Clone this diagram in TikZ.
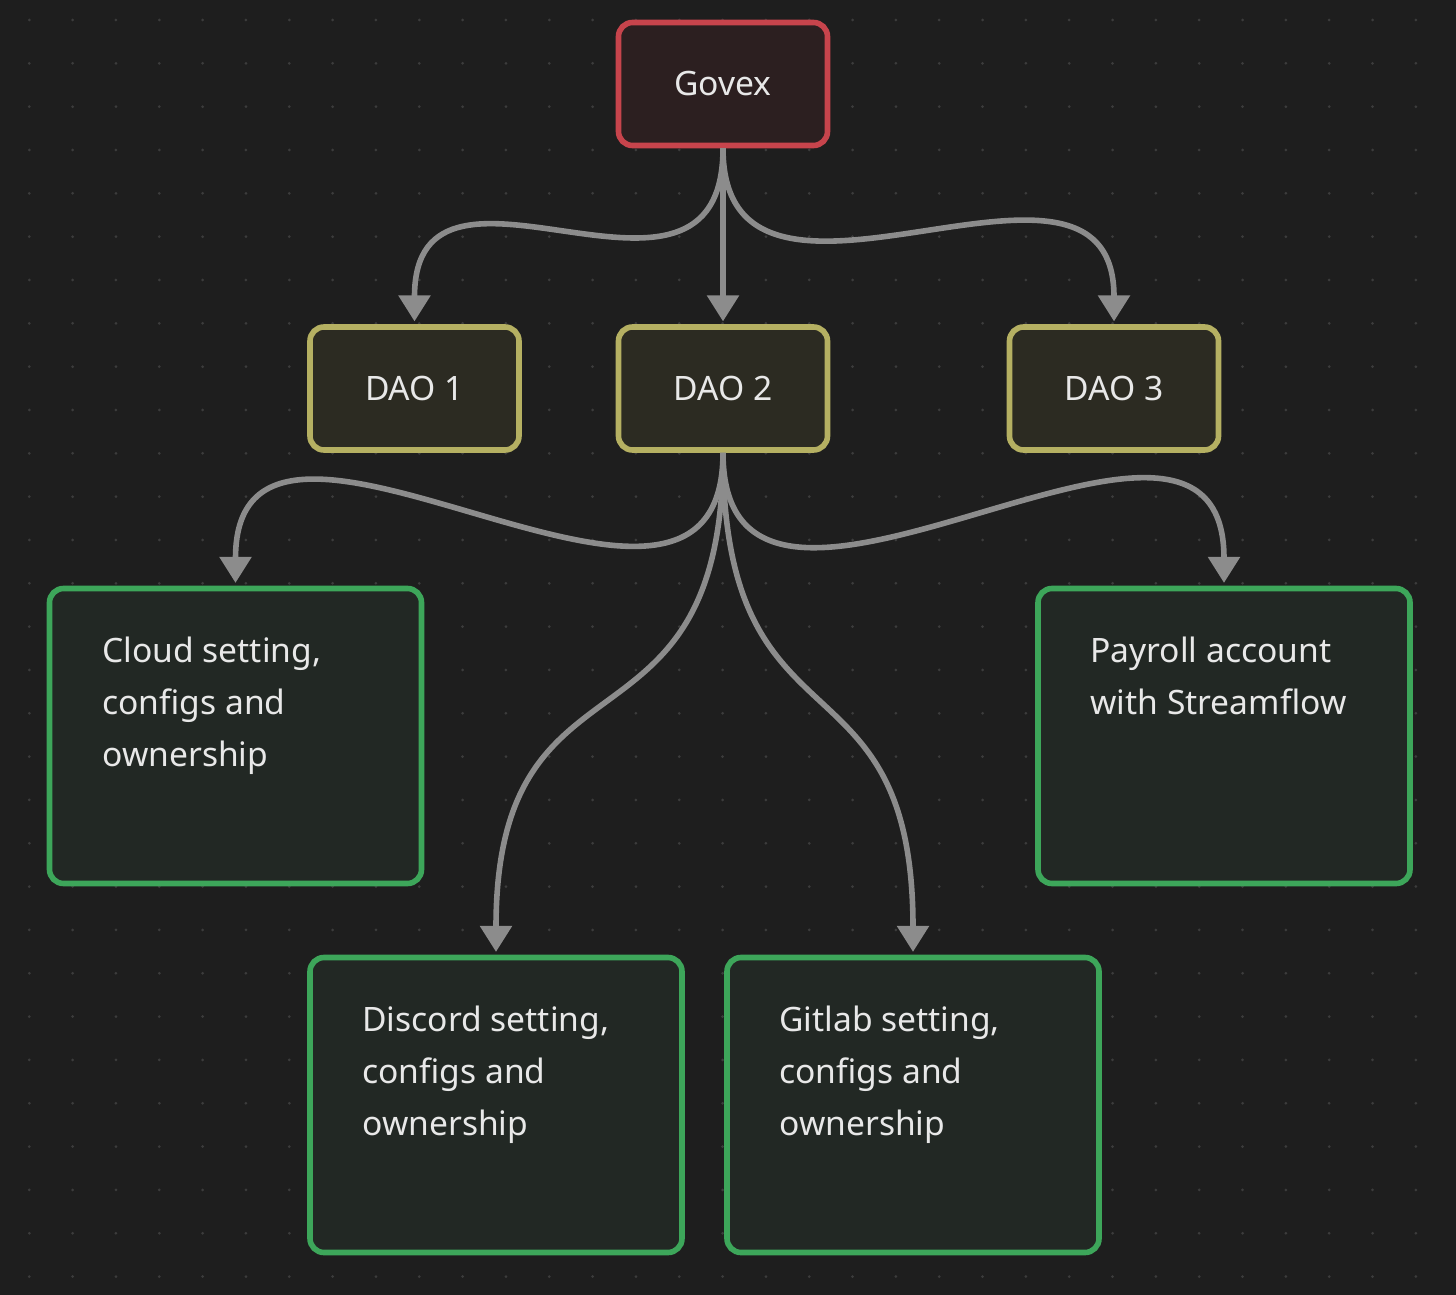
\documentclass[tikz,border=0pt]{standalone}
\usepackage{fontspec}
\setmainfont{Noto Sans}
\usetikzlibrary{arrows.meta}
\definecolor{bg}{HTML}{1E1E1E}
\definecolor{dotc}{HTML}{3C3C3C}
\definecolor{txt}{HTML}{E8E8E8}
\definecolor{edgec}{HTML}{8C8C8C}
\definecolor{redb}{HTML}{C7444C}
\definecolor{redf}{HTML}{2C1F20}
\definecolor{yelb}{HTML}{B5B062}
\definecolor{yelf}{HTML}{2C2B22}
\definecolor{grnb}{HTML}{3DA65A}
\definecolor{grnf}{HTML}{222824}
\begin{document}
\begin{tikzpicture}[x=0.5pt,y=-0.5pt,
  box/.style={draw, line width=2.8pt, rounded corners=7pt, inner sep=0pt,
    text=txt, font=\fontsize{16.8}{26}\selectfont},
  redbox/.style={box, draw=redb, fill=redf, minimum width=104.5pt, minimum height=61.5pt},
  yelbox/.style={box, draw=yelb, fill=yelf, minimum width=104.5pt, minimum height=61.5pt},
  grnbox/.style={box, draw=grnb, fill=grnf, minimum width=186pt, minimum height=147.5pt},
  lbl/.style={text=txt, font=\fontsize{16.8}{26}\selectfont, align=left, anchor=base west, inner sep=0pt},
  edge/.style={draw=edgec, line width=2.8pt, -{Triangle[width=15.5pt,length=13pt]}}
]
\fill[bg] (0,0) rectangle (1456,1295);
\useasboundingbox (0,0) rectangle (1456,1295);
\foreach \i in {0,...,33}{
  \foreach \j in {0,...,29}{
    \fill[dotc] ({29.3+43.33*\i},{20+43.33*\j}) circle (0.75pt);
  }
}
% nodes
\node[redbox] (govex) at (723,84) {Govex};
\node[yelbox] (dao1) at (414.5,388.5) {DAO 1};
\node[yelbox] (dao2) at (723,388.5) {DAO 2};
\node[yelbox] (dao3) at (1114,388.5) {DAO 3};
\node[grnbox] (cloud) at (235.5,736) {};
\node[grnbox] (payroll) at (1224,736) {};
\node[grnbox] (discord) at (496,1105) {};
\node[grnbox] (gitlab) at (913,1105) {};
\node[lbl] (cloudt) at (102,766) {Cloud setting,\\configs and\\ownership};
\node[lbl] (payrollt) at (1090,714) {Payroll account\\with Streamflow};
\node[lbl] (discordt) at (362,1135) {Discord setting,\\configs and\\ownership};
\node[lbl] (gitlabt) at (779,1135) {Gitlab setting,\\configs and\\ownership};
% edges
\draw[edge] (govex.south) .. controls +(0,205) and +(0,-205) .. ([yshift=1.4pt]dao1.north);
\draw[edge] (govex.south) -- ([yshift=1.4pt]dao2.north);
\draw[edge] (govex.south) .. controls +(0,220) and +(0,-220) .. ([yshift=1.4pt]dao3.north);
\draw[edge] (dao2.south) .. controls +(0,260) and +(0,-260) .. ([yshift=1.4pt]cloud.north);
\draw[edge] (dao2.south) .. controls +(0,320) and +(0,-320) .. ([yshift=1.4pt]discord.north);
\draw[edge] (dao2.south) .. controls +(0,310) and +(0,-310) .. ([yshift=1.4pt]gitlab.north);
\draw[edge] (dao2.south) .. controls +(0,265) and +(0,-265) .. ([yshift=1.4pt]payroll.north);
\end{tikzpicture}
\end{document}
